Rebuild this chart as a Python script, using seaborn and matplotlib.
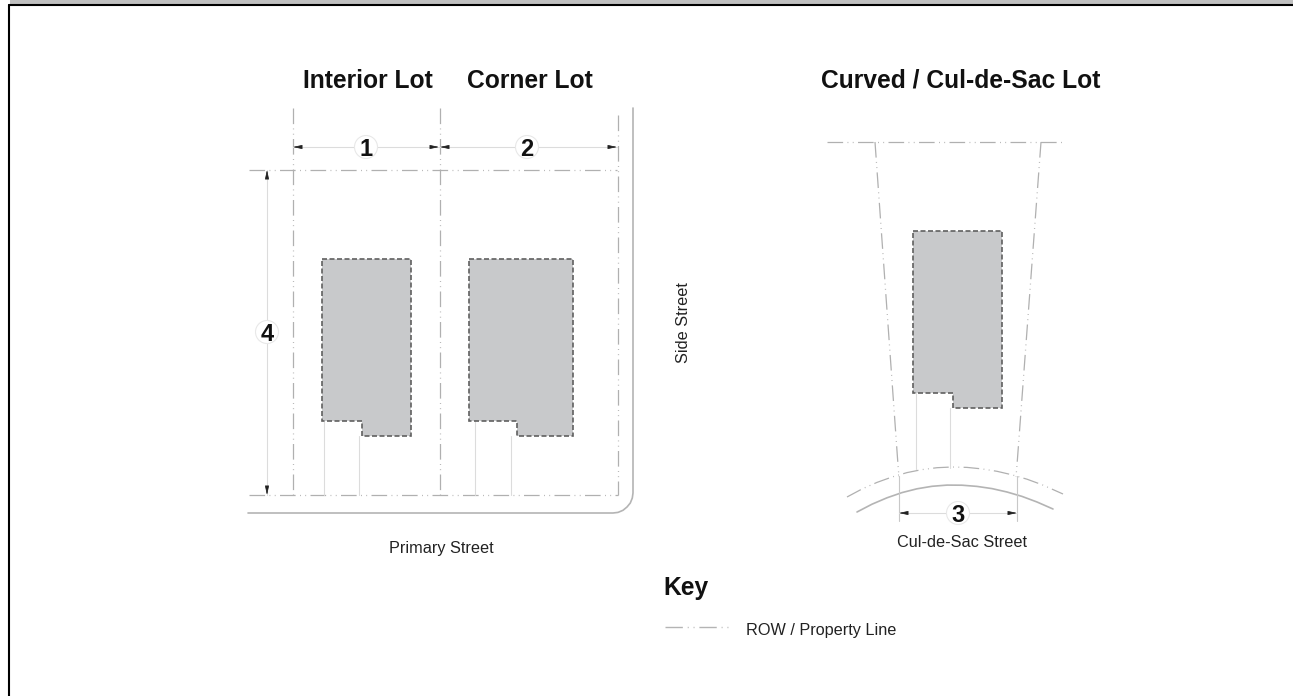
import numpy as np
import pandas as pd
import seaborn as sns
import matplotlib.pyplot as plt
from matplotlib.patches import Circle

sns.set_theme(style='white')
plt.rcParams['font.family'] = ['Liberation Sans', 'DejaVu Sans']

titles = ['Interior Lot', 'Corner Lot', 'Curved / Cul-de-Sac Lot']
title_x = [367.5, 530, 961]
street_labels = ['Primary Street', 'Cul-de-Sac Street']
street_label_x = [441, 962]
street_label_y = [549, 542.5]

# property lines
row_x = [[293, 293], [439.5, 439.5], [617.5, 617.5], [249, 617], [249, 618],
         [875, 898, 899], [1041, 1017, 1016], [827, 1065],
         [847, 862, 877, 892, 907, 922, 937, 952, 967, 982, 997, 1012, 1027, 1042, 1063]]
row_y = [[108, 495], [108, 495], [115, 495], [170, 170], [495, 495],
         [142, 465, 477], [142, 465, 477], [142, 142],
         [497, 489, 482.4, 477, 472.6, 469.6, 467.7, 467, 467.4, 468.9, 471.3, 474.8, 479.2, 484.7, 494]]

# buildings
house_x = [[322, 411, 411, 362, 362, 322],
           [469, 572.5, 572.5, 516.5, 516.5, 469],
           [913, 1002, 1002, 953, 953, 913]]
house_y = [[259, 259, 436, 436, 421, 421],
           [259, 259, 436, 436, 421, 421],
           [231, 231, 408, 408, 393, 393]]

# driveways
drive_x = [[324, 324], [359, 359], [475, 475], [511, 511], [916, 916], [950, 950]]
drive_y = [[421, 495], [436, 495], [421, 495], [436, 495], [393, 469], [408, 468]]

# street edges
curb_x = [[248, 613, 618, 623, 627, 630.3, 632.3, 633, 633],
          [857, 872, 887, 902, 917, 932, 947, 962, 977, 992, 1007, 1022, 1037, 1053]]
curb_y = [[513, 513, 512.4, 510.3, 507, 503, 498, 493, 108],
          [512, 504.2, 497.8, 492.6, 488.8, 486.3, 485.1, 485.2, 486.4, 488.6, 492, 496.4, 502, 509]]

# extension lines at the cul-de-sac
ext_x = [[899, 899], [1017, 1017]]
ext_y = [[476, 521], [476, 521]]

# dimension lines
dim_labels = ['1', '2', '3', '4']
dim_x0 = [293, 440, 899, 267]
dim_x1 = [439, 617, 1017, 267]
dim_y0 = [147, 147, 513, 170]
dim_y1 = [147, 147, 513, 495]
dim_label_x = [366, 527, 958, 267]
dim_label_y = [147, 147, 513, 332]

key_title = 'Key'
key_label = 'ROW / Property Line'
key_x = [665, 730]
key_y = [627, 627]

row_style = (0, (12.5, 3.5, 0.7, 3.5, 0.7, 3.5))

fig = plt.figure(figsize=(12.93, 6.96), dpi=100)
ax = fig.add_axes([0, 0, 1, 1])
ax.set_xlim(0, 1293)
ax.set_ylim(696, 0)
ax.axis('off')


def line(xs, ys, color, lw, ls='-', zorder=2):
    df = pd.DataFrame({'x': xs, 'y': ys})
    sns.lineplot(data=df, x='x', y='y', sort=False, estimator=None, ax=ax,
                 color=color, linewidth=lw, linestyle=ls, zorder=zorder, legend=False)


# page frame, open on the right
ax.fill_between([10, 1293], 0, 4.2, color='#c0c0c0', lw=0)
line([8.5, 1293], [5, 5], 'black', 1.5)
line([9.2, 9.2], [4.5, 696], 'black', 1.5)

for xs, ys in zip(row_x, row_y):
    line(xs, ys, '#b0b0b0', 0.9, row_style)
for xs, ys in zip(curb_x, curb_y):
    line(xs, ys, '#b4b4b4', 1.2)
for xs, ys in zip(drive_x, drive_y):
    line(xs, ys, '#dcdcdc', 0.8)
for xs, ys in zip(ext_x, ext_y):
    line(xs, ys, '#c8c8c8', 0.8)

for xs, ys in zip(house_x, house_y):
    ax.fill(xs, ys, facecolor='#c8c9cb', edgecolor='#606060', lw=1.2,
            linestyle=(0, (3, 1.5)), zorder=3)

for i, lab in enumerate(dim_labels):
    line([dim_x0[i], dim_x1[i]], [dim_y0[i], dim_y1[i]], '#dcdcdc', 0.8)
    if dim_y0[i] == dim_y1[i]:
        dx = np.array([8, -8])
        dy = np.array([0, 0])
    else:
        dx = np.array([0, 0])
        dy = np.array([8, -8])
    for (px, py, ox, oy) in zip([dim_x0[i], dim_x1[i]], [dim_y0[i], dim_y1[i]], dx, dy):
        ax.annotate('', xy=(px, py), xytext=(px + ox, py + oy),
                    arrowprops=dict(arrowstyle='-|>,head_length=0.45,head_width=0.1', color='#222222',
                                    lw=0.5, shrinkA=0, shrinkB=0), zorder=4)
    ax.add_patch(Circle((dim_label_x[i], dim_label_y[i]), 11.5, facecolor='white', edgecolor='#e8e8e8',
                        lw=0.8, zorder=5))
    ax.text(dim_label_x[i], dim_label_y[i], lab, ha='center', va='center_baseline', fontsize=17,
            fontweight='bold', color='#111111', zorder=6)

for t, x in zip(titles, title_x):
    ax.text(x, 81, t, ha='center', va='center', fontsize=17.7, fontweight='bold', color='#111111')
for t, x, y in zip(street_labels, street_label_x, street_label_y):
    ax.text(x, y, t, ha='center', va='center', fontsize=11.7, color='#222222')
ax.text(684, 323, 'Side Street', ha='center', va='center', rotation=90, fontsize=11.7, color='#222222')

ax.text(663.5, 588, key_title, ha='left', va='center', fontsize=17.7, fontweight='bold', color='#111111')
line(key_x, key_y, '#b4b4b4', 1.0, row_style)
ax.text(746, 630.5, key_label, ha='left', va='center', fontsize=11.7, color='#222222')

fig.savefig('out.png', dpi=100)
